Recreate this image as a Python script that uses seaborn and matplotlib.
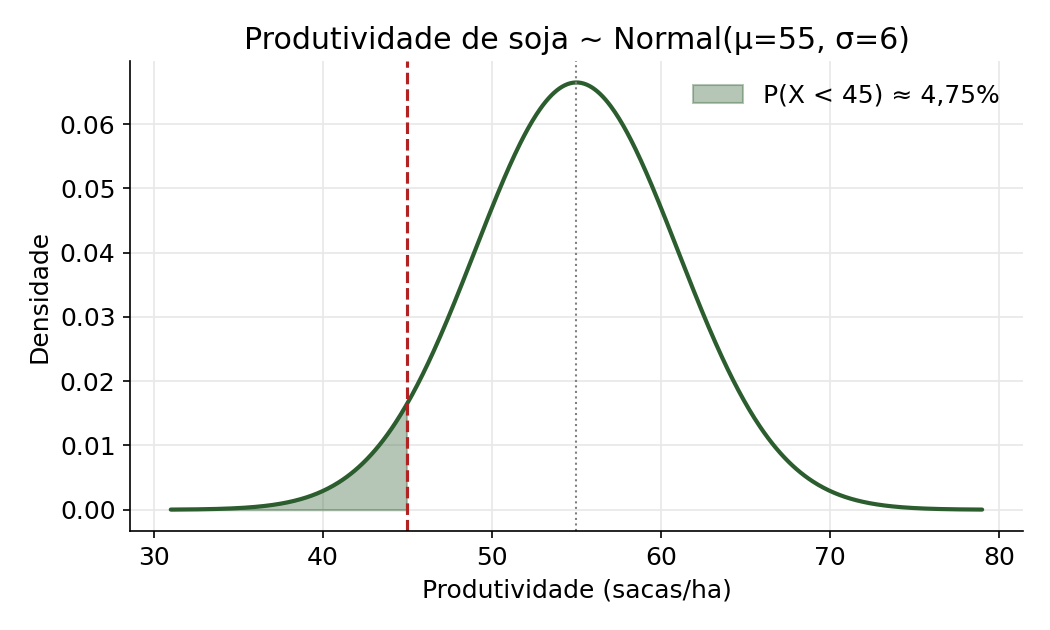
import numpy as np
import pandas as pd
import seaborn as sns
from matplotlib import pyplot as plt

# parameters shown in the title
MU = 55
SIGMA = 6
LIMIT = 45
X_MIN, X_MAX = 31, 79
PROB_LABEL = 'P(X < 45) ≈ 4,75%'

CURVE_COLOR = '#2b5d2e'
LIMIT_COLOR = '#b22222'

x = np.linspace(X_MIN, X_MAX, 600)
density = np.exp(-0.5 * ((x - MU) / SIGMA) ** 2) / (SIGMA * np.sqrt(2 * np.pi))
df = pd.DataFrame({'x': x, 'densidade': density})
tail = df[df['x'] <= LIMIT]

sns.set_style('ticks', rc={
    'axes.edgecolor': 'black',
    'axes.labelcolor': 'black',
    'text.color': 'black',
    'xtick.color': 'black',
    'ytick.color': 'black',
})
plt.rcParams['font.family'] = ['DejaVu Sans']

fig, ax = plt.subplots(figsize=(7, 4.2), dpi=150)

sns.lineplot(data=df, x='x', y='densidade', ax=ax, color=CURVE_COLOR, linewidth=2)
ax.fill_between(tail['x'], tail['densidade'], color=CURVE_COLOR, alpha=0.35,
                label=PROB_LABEL)
ax.axvline(LIMIT, color=LIMIT_COLOR, linestyle='--', linewidth=1.5)
ax.axvline(MU, color='gray', linestyle=':', linewidth=1)

ax.set_title('Produtividade de soja ~ Normal(μ=55, σ=6)', fontsize=14.4)
ax.set_xlabel('Produtividade (sacas/ha)', fontsize=12)
ax.set_ylabel('Densidade', fontsize=12)
ax.tick_params(labelsize=12)
ax.grid(True, color='#e8e8e8', linewidth=0.8)
ax.set_axisbelow(True)
ax.legend(frameon=False, fontsize=12, loc='upper right')
sns.despine(ax=ax)

fig.subplots_adjust(left=0.124, right=0.974, top=0.903, bottom=0.157)
fig.savefig('out.png', dpi=150)
